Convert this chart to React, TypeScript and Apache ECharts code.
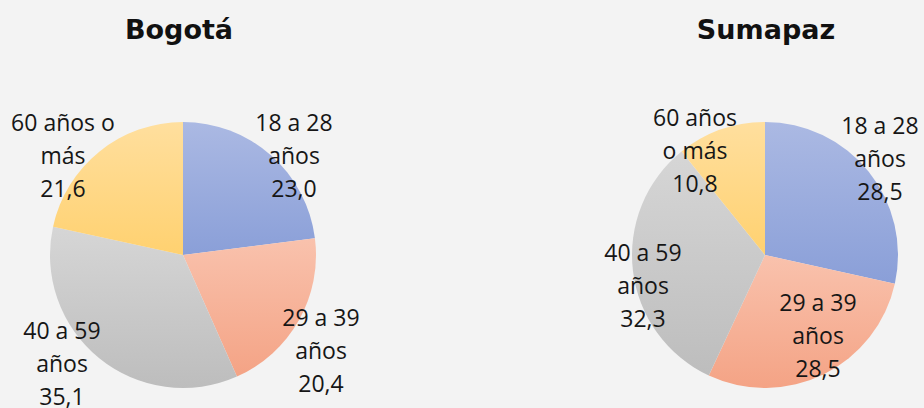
import React, { useEffect, useRef } from "react";
import * as echarts from "echarts";

const CATEGORIES = ["18 a 28 años", "29 a 39 años", "40 a 59 años", "60 años o más"];
const BOGOTA_LABELS = ["18 a 28\naños", "29 a 39\naños", "40 a 59\naños", "60 años o\nmás"];
const SUMAPAZ_LABELS = ["18 a 28\naños", "29 a 39\naños", "40 a 59\naños", "60 años\no más"];
const BOGOTA_VALUES = [23.0, 20.4, 35.1, 21.6];
const SUMAPAZ_VALUES = [28.5, 28.5, 32.3, 10.8];
const TITLES = ["Bogotá", "Sumapaz"];

const GRADIENTS = [
  ["#abb9e3", "#8a9fd8"],
  ["#f9c2ad", "#f4a385"],
  ["#d6d6d6", "#bdbdbd"],
  ["#ffdf9e", "#ffd170"],
];

const BOGOTA_LABEL_POS = [
  [294, 155],
  [321, 350],
  [62, 363],
  [63, 155],
];
const SUMAPAZ_LABEL_POS = [
  [880, 158],
  [818, 335],
  [643, 285],
  [695, 150],
];

const fmt = (v: number) => v.toFixed(1).replace(".", ",");

function buildSeries(
  values: number[],
  labels: string[],
  center: [number, number],
  pos: number[][]
) {
  return {
    type: "pie",
    center,
    radius: 133,
    startAngle: 90,
    clockwise: true,
    avoidLabelOverlap: false,
    silent: true,
    data: values.map((v, i) => ({
      name: CATEGORIES[i],
      value: v,
      itemStyle: {
        color: {
          type: "linear",
          x: 0,
          y: 0,
          x2: 0,
          y2: 1,
          colorStops: [
            { offset: 0, color: GRADIENTS[i][0] },
            { offset: 1, color: GRADIENTS[i][1] },
          ],
        },
      },
      label: {
        formatter: () => labels[i] + "\n" + fmt(v),
      },
    })),
    itemStyle: { borderWidth: 0 },
    label: {
      show: true,
      position: "outside",
      fontFamily: "Open Sans",
      fontSize: 23,
      lineHeight: 33,
      color: "#161616",
      align: "center",
    },
    labelLine: { show: false },
    labelLayout: (p: any) => ({
      x: pos[p.dataIndex][0],
      y: pos[p.dataIndex][1],
      align: "center",
      verticalAlign: "middle",
    }),
  };
}

export default function App() {
  const ref = useRef<HTMLDivElement>(null);
  useEffect(() => {
    if (!ref.current) return;
    const chart = echarts.init(ref.current, undefined, { renderer: "svg" });
    const titleStyle = {
      fontFamily: "DejaVu Sans",
      fontWeight: "bold",
      fontSize: 27,
      color: "#111",
    };
    chart.setOption({
      animation: false,
      backgroundColor: "#f3f3f3",
      title: [
        { text: TITLES[0], left: 174, top: 11, textAlign: "center", textStyle: titleStyle },
        { text: TITLES[1], left: 761, top: 11, textAlign: "center", textStyle: titleStyle },
      ],
      series: [
        buildSeries(BOGOTA_VALUES, BOGOTA_LABELS, [183, 255], BOGOTA_LABEL_POS),
        buildSeries(SUMAPAZ_VALUES, SUMAPAZ_LABELS, [765, 255], SUMAPAZ_LABEL_POS),
      ],
    });
    return () => chart.dispose();
  }, []);
  return (
    <div
      ref={ref}
      style={{ position: "fixed", left: 0, top: 0, width: 924, height: 408 }}
    />
  );
}
